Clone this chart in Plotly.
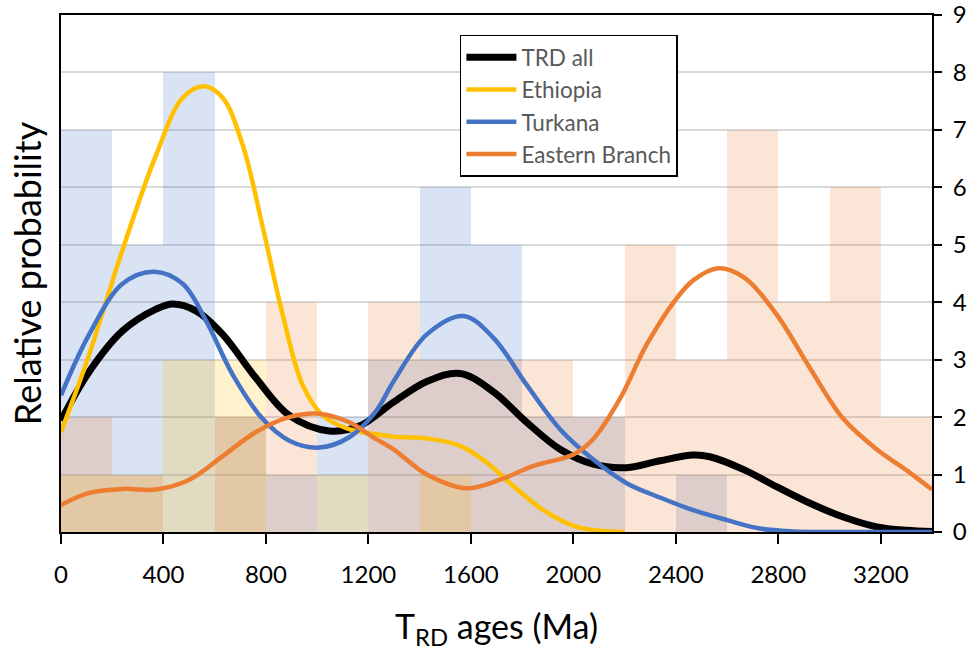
import plotly.graph_objects as go

# Histogram bins (200 Ma wide), counts
bin_centers = [100, 300, 500, 700, 900, 1100, 1300, 1500, 1700, 1900, 2100, 2300, 2500, 2700, 2900, 3100, 3300]
turkana_counts = [7, 5, 8, 2, 1, 2, 3, 6, 5, 2, 2, 0, 1, 0, 0, 0, 0]
ethiopia_counts = [1, 1, 3, 3, 0, 1, 0, 1, 0, 0, 0, 0, 0, 0, 0, 0, 0]
eastern_counts = [2, 1, 0, 2, 4, 0, 4, 3, 3, 3, 2, 5, 3, 7, 4, 6, 2]

# Probability density curves (relative probability, drawn in the same 0-9 frame)
trd_x = [0, 110, 240, 371, 436, 527, 631, 761, 891, 1047, 1167, 1298, 1428, 1558, 1688, 1818, 1948, 2078, 2208, 2338, 2468, 2533, 2663, 2793, 2924, 3054, 3184, 3300, 3400]
trd_y = [1.94, 2.79, 3.5, 3.88, 3.97, 3.85, 3.44, 2.68, 2.03, 1.76, 1.85, 2.26, 2.62, 2.76, 2.44, 1.91, 1.44, 1.18, 1.12, 1.24, 1.34, 1.31, 1.09, 0.79, 0.5, 0.26, 0.09, 0.03, 0.01]

eth_x = [0, 110, 240, 371, 475, 559, 631, 709, 787, 865, 943, 1021, 1125, 1229, 1298, 1428, 1558, 1662, 1753, 1883, 2013, 2200]
eth_y = [1.74, 3.09, 4.91, 6.56, 7.56, 7.76, 7.56, 6.74, 5.32, 3.79, 2.56, 2.03, 1.79, 1.7, 1.66, 1.63, 1.5, 1.21, 0.85, 0.38, 0.09, 0.0]

tur_x = [0, 110, 240, 364, 475, 566, 670, 787, 891, 1008, 1125, 1229, 1298, 1428, 1571, 1688, 1818, 1948, 2078, 2208, 2338, 2468, 2598, 2728, 2858, 3000, 3200, 3400]
tur_y = [2.38, 3.44, 4.32, 4.53, 4.32, 3.68, 2.74, 1.97, 1.59, 1.47, 1.65, 2.1, 2.62, 3.44, 3.76, 3.38, 2.56, 1.79, 1.26, 0.85, 0.6, 0.38, 0.21, 0.06, 0.01, 0.0, 0.0, 0.0]

eb_x = [0, 110, 240, 371, 501, 631, 761, 891, 1008, 1125, 1229, 1298, 1428, 1584, 1714, 1844, 2000, 2078, 2182, 2286, 2400, 2468, 2565, 2663, 2793, 2924, 3054, 3184, 3314, 3400]
eb_y = [0.47, 0.68, 0.75, 0.74, 0.91, 1.32, 1.74, 2.0, 2.06, 1.91, 1.62, 1.44, 1.0, 0.76, 0.91, 1.15, 1.35, 1.62, 2.32, 3.26, 4.05, 4.38, 4.59, 4.44, 3.79, 2.85, 1.97, 1.44, 1.03, 0.74]

x_ticks = [0, 400, 800, 1200, 1600, 2000, 2400, 2800, 3200]
y_ticks = [0, 1, 2, 3, 4, 5, 6, 7, 8, 9]

FONT = "Lato, Carlito, Calibri, sans-serif"

fig = go.Figure()

bar_specs = [
    ("Turkana", turkana_counts, "rgba(68,114,196,0.2)"),
    ("Ethiopia", ethiopia_counts, "rgba(255,192,0,0.2)"),
    ("Eastern Branch", eastern_counts, "rgba(237,125,49,0.2)"),
]
for name, counts, col in bar_specs:
    fig.add_trace(go.Bar(
        x=bin_centers, y=counts, width=200, name=name + " (n)",
        marker=dict(color=col, line=dict(width=0)),
        showlegend=False, yaxis="y", hoverinfo="x+y",
    ))

line_specs = [
    ("TRD all", trd_x, trd_y, "#000000", 7),
    ("Ethiopia", eth_x, eth_y, "#FFC000", 4.5),
    ("Turkana", tur_x, tur_y, "#4472C4", 4.5),
    ("Eastern Branch", eb_x, eb_y, "#ED7D31", 4.5),
]
for name, xs, ys, col, w in line_specs:
    fig.add_trace(go.Scatter(
        x=xs, y=ys, mode="lines", name=name,
        line=dict(color=col, width=w, shape="spline", smoothing=1.0),
        yaxis="y2",
    ))

fig.update_layout(
    width=973, height=654,
    margin=dict(l=61, r=41, t=15, b=122, autoexpand=False),
    paper_bgcolor="white", plot_bgcolor="white",
    barmode="overlay", bargap=0,
    font=dict(family=FONT, size=24, color="black"),
    xaxis=dict(
        range=[0, 3400], tickvals=x_ticks, ticktext=[str(v) for v in x_ticks],
        showgrid=False, zeroline=False, automargin=False,
        showline=True, linecolor="black", linewidth=2, mirror=True,
        ticks="outside", ticklen=10, tickwidth=1.5, tickcolor="black",
        ticklabelstandoff=10,
        tickfont=dict(size=24, family=FONT),
        title=dict(text="T<sub>RD</sub> ages (Ma)", font=dict(size=34, family=FONT), standoff=28),
    ),
    yaxis=dict(
        range=[0, 9], tickvals=y_ticks, ticktext=[str(v) for v in y_ticks], side="right",
        showgrid=True, gridcolor="#D9D9D9", gridwidth=1.5, zeroline=False, automargin=False,
        showline=True, linecolor="black", linewidth=2,
        ticks="outside", ticklen=8, tickwidth=1.5, tickcolor="black",
        ticklabelstandoff=6, ticklabeloverflow="allow",
        tickfont=dict(size=24, family=FONT),
    ),
    yaxis2=dict(
        range=[0, 9], overlaying="y", side="left", automargin=False,
        showgrid=False, zeroline=False, showticklabels=False, ticks="",
        showline=True, linecolor="black", linewidth=2,
        title=dict(text="Relative probability", font=dict(size=36, family=FONT), standoff=6),
    ),
    legend=dict(
        x=0.458, y=0.962, xanchor="left", yanchor="top",
        bgcolor="white", bordercolor="black", borderwidth=1.5,
        font=dict(size=22.5, color="#595959", family=FONT),
        tracegroupgap=0, itemwidth=50,
    ),
)

fig.write_html("out.html")
